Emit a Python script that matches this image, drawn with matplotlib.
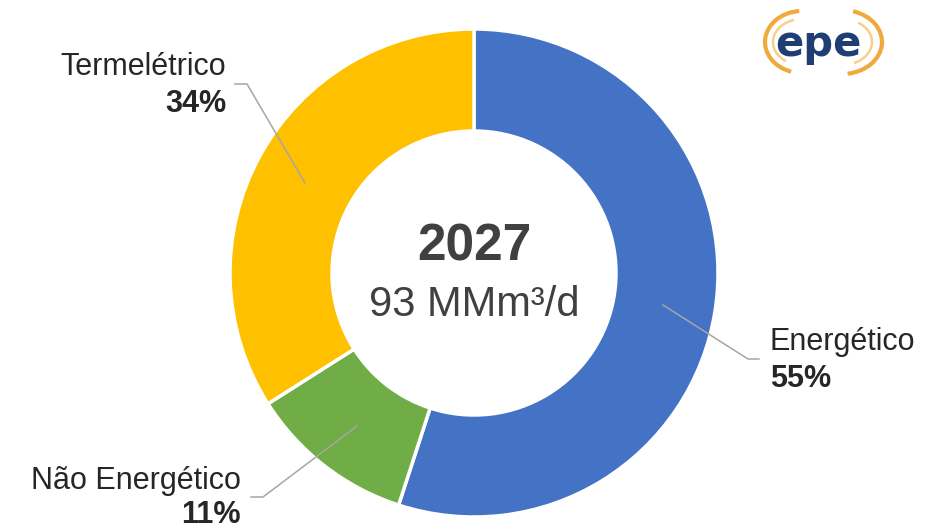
import matplotlib
matplotlib.use("Agg")
import matplotlib.pyplot as plt
from matplotlib.patches import Arc

plt.rcParams["font.family"] = ["Liberation Sans", "DejaVu Sans"]

# Data
categories = ["Energético", "Não Energético", "Termelétrico"]
shares = [55, 11, 34]
colors = ["#4472C4", "#70AD47", "#FFC000"]
year_label = "2027"
total_label = "93 MMm³/d"

W, H = 925, 531
fig = plt.figure(figsize=(W / 100, H / 100), dpi=100)
ax = fig.add_axes([0, 0, 1, 1])

cx, cy = 474, H - 273
R = 244
ring = 102

ax.pie(shares, colors=colors, startangle=90, counterclock=False,
       radius=R, center=(cx, cy), frame=True,
       wedgeprops=dict(width=ring, edgecolor="white", linewidth=2.5))
ax.set_xlim(0, W)
ax.set_ylim(0, H)
ax.set_aspect("equal")
ax.axis("off")

# centre text
ax.text(cx, H - 247, year_label, ha="center", va="center",
        fontsize=37, fontweight="bold", color="#404040")
ax.text(cx, H - 305, total_label, ha="center", va="center",
        fontsize=30, color="#404040")

# labels with leader lines (pixel positions, y measured from top)
label_layout = {
    "Energético": dict(line=[(663, 305), (748, 359), (759, 359)],
                       x=770, y1=342, y2=379, ha="left"),
    "Não Energético": dict(line=[(357, 426), (263, 497), (251, 497)],
                           x=241, y1=481, y2=515, ha="right"),
    "Termelétrico": dict(line=[(305, 183), (247, 84), (235, 84)],
                         x=226, y1=67, y2=104, ha="right"),
}
for name, val in zip(categories, shares):
    lay = label_layout[name]
    xs = [p[0] for p in lay["line"]]
    ys = [H - p[1] for p in lay["line"]]
    ax.plot(xs, ys, color="#A6A6A6", lw=1.1)
    ax.text(lay["x"], H - lay["y1"], name, ha=lay["ha"], va="center",
            fontsize=22, color="#262626")
    ax.text(lay["x"], H - lay["y2"], f"{val}%", ha=lay["ha"], va="center",
            fontsize=22, fontweight="bold", color="#262626")

# epe logo
ax.add_patch(Arc((802, H - 42), 74, 62, theta1=95, theta2=250,
                 color="#F2A93B", lw=3))
ax.add_patch(Arc((802, H - 42), 58, 46, theta1=110, theta2=230,
                 color="#F7D08A", lw=1.8))
ax.add_patch(Arc((842, H - 42), 80, 64, theta1=-80, theta2=70,
                 color="#F2A93B", lw=3))
ax.add_patch(Arc((842, H - 42), 60, 46, theta1=-60, theta2=50,
                 color="#F7D08A", lw=1.8))
ax.text(818, H - 44, "epe", ha="center", va="center", fontsize=30,
        fontweight="bold", color="#1F3F74", family=["DejaVu Sans"])

fig.savefig("out.png", dpi=100)
